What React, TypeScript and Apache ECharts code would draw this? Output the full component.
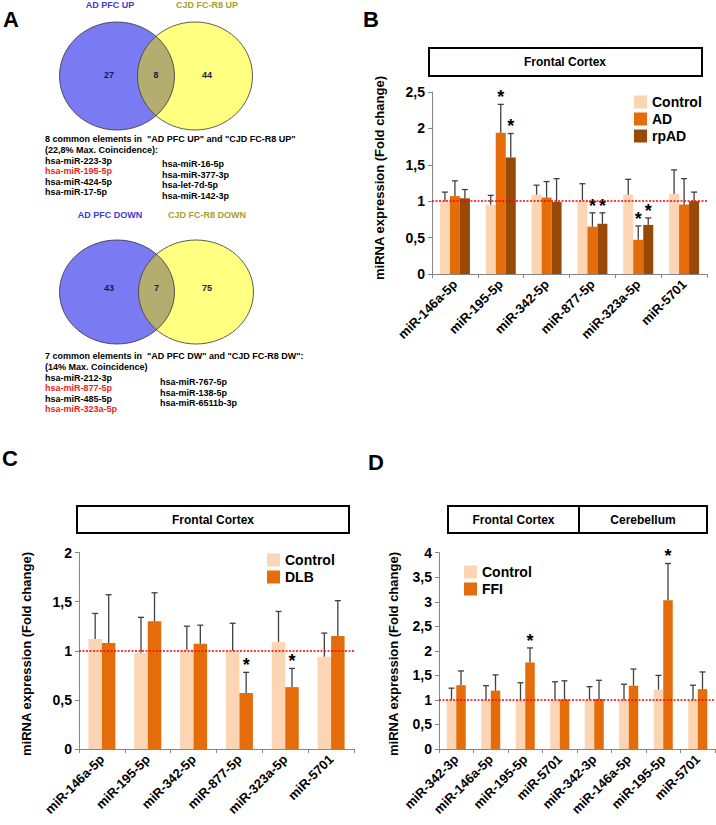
import React, { useEffect, useRef } from 'react';
import * as echarts from 'echarts';

const FONT = "'Liberation Sans', Arial, Helvetica, sans-serif";

// ---------- Panel A (Venn) ----------
const vennUpLabels = ['AD PFC UP', 'CJD FC-R8 UP'];
const vennUpCounts = ['27', '8', '44'];
const vennDownLabels = ['AD PFC DOWN', 'CJD FC-R8 DOWN'];
const vennDownCounts = ['43', '7', '75'];
const upHeader = ['8 common elements in  "AD PFC UP" and "CJD FC-R8 UP"', '(22,8% Max. Coincidence):'];
const upLeft = ['hsa-miR-223-3p', 'hsa-miR-195-5p', 'hsa-miR-424-5p', 'hsa-miR-17-5p'];
const upLeftRed = [false, true, false, false];
const upRight = ['hsa-miR-16-5p', 'hsa-miR-377-3p', 'hsa-let-7d-5p', 'hsa-miR-142-3p'];
const downHeader = ['7 common elements in  "AD PFC DW" and "CJD FC-R8 DW":', '(14% Max. Coincidence)'];
const downLeft = ['hsa-miR-212-3p', 'hsa-miR-877-5p', 'hsa-miR-485-5p', 'hsa-miR-323a-5p'];
const downLeftRed = [false, true, false, true];
const downRight = ['hsa-miR-767-5p', 'hsa-miR-138-5p', 'hsa-miR-6511b-3p'];

// ---------- Panel B ----------
const bCategories = ['miR-146a-5p', 'miR-195-5p', 'miR-342-5p', 'miR-877-5p', 'miR-323a-5p', 'miR-5701'];
const bControl = [1.0, 0.95, 1.09, 1.01, 1.09, 1.1];
const bControlErr = [1.125, 1.08, 1.22, 1.24, 1.3, 1.43];
const bAD = [1.07, 1.94, 1.05, 0.65, 0.47, 0.955];
const bADErr = [1.28, 2.33, 1.27, 0.84, 0.66, 1.31];
const bRpAD = [1.04, 1.6, 0.99, 0.69, 0.675, 1.0];
const bRpADErr = [1.16, 1.93, 1.31, 0.84, 0.77, 1.125];
const bADStars = [false, true, false, true, true, false];
const bRpADStars = [false, true, false, true, true, false];
const bYMax = 2.5;

// ---------- Panel C ----------
const cCategories = ['miR-146a-5p', 'miR-195-5p', 'miR-342-5p', 'miR-877-5p', 'miR-323a-5p', 'miR-5701'];
const cControl = [1.12, 0.98, 1.01, 1.0, 1.09, 0.94];
const cControlErr = [1.38, 1.34, 1.25, 1.28, 1.4, 1.18];
const cDLB = [1.08, 1.3, 1.07, 0.57, 0.63, 1.15];
const cDLBErr = [1.57, 1.59, 1.26, 0.78, 0.82, 1.51];
const cDLBStars = [false, false, false, true, true, false];
const cYMax = 2;

// ---------- Panel D ----------
const dCategories = ['miR-342-3p', 'miR-146a-5p', 'miR-195-5p', 'miR-5701', 'miR-342-3p', 'miR-146a-5p', 'miR-195-5p', 'miR-5701'];
const dControl = [1.0, 1.0, 1.0, 1.02, 1.0, 1.0, 1.21, 1.0];
const dControlErr = [1.24, 1.29, 1.35, 1.37, 1.27, 1.32, 1.5, 1.3];
const dFFI = [1.3, 1.19, 1.765, 1.01, 1.02, 1.29, 3.03, 1.22];
const dFFIErr = [1.59, 1.51, 2.06, 1.39, 1.4, 1.63, 3.78, 1.57];
const dFFIStars = [false, false, true, false, false, false, true, false];
const dYMax = 4;

const C_CONTROL = '#fcd5b4';
const C_AD = '#e46c0a';
const C_RPAD = '#984807';
const AXIS = '#868686';
const ERR = '#404040';

function lensPath(c1: number, c2: number, cy: number, rx: number, ry: number) {
  const xm = (c1 + c2) / 2;
  const dx = (c2 - c1) / 2;
  const h = ry * Math.sqrt(1 - (dx / rx) * (dx / rx));
  return `M ${xm} ${cy - h} A ${rx} ${ry} 0 0 1 ${xm} ${cy + h} A ${rx} ${ry} 0 0 1 ${xm} ${cy - h} Z`;
}

const V1 = { c1: 117, c2: 195, cy: 76, rx: 57.5, ry: 54 };
const V2 = { c1: 117, c2: 196, cy: 292, rx: 57.5, ry: 52 };

echarts.graphic.registerShape('lensUp', echarts.graphic.extendPath(lensPath(V1.c1, V1.c2, V1.cy, V1.rx, V1.ry), {}) as any);
echarts.graphic.registerShape('lensDown', echarts.graphic.extendPath(lensPath(V2.c1, V2.c2, V2.cy, V2.rx, V2.ry), {}) as any);

function txt(x: number, y: number, text: string, font: string, fill = '#000', align = 'left', rotation = 0): any {
  return {
    type: 'text',
    x,
    y,
    rotation,
    silent: true,
    style: {
      text,
      font,
      fill,
      align,
      verticalAlign: 'middle',
      textAlign: align,
      textVerticalAlign: 'middle',
    },
  };
}

function venn(v: typeof V1, lens: string, labels: string[], counts: string[], labelY: number, countY: number): any[] {
  const els: any[] = [];
  els.push({ type: 'ellipse', shape: { cx: v.c1, cy: v.cy, rx: v.rx, ry: v.ry }, style: { fill: '#7a7af2' }, silent: true });
  els.push({ type: 'ellipse', shape: { cx: v.c2, cy: v.cy, rx: v.rx, ry: v.ry }, style: { fill: '#ffff80' }, silent: true });
  els.push({ type: lens, x: 0, y: 0, style: { fill: '#b3ae70' }, silent: true });
  els.push({ type: 'ellipse', shape: { cx: v.c1, cy: v.cy, rx: v.rx, ry: v.ry }, style: { fill: 'none', stroke: '#333', lineWidth: 0.8 }, silent: true });
  els.push({ type: 'ellipse', shape: { cx: v.c2, cy: v.cy, rx: v.rx, ry: v.ry }, style: { fill: 'none', stroke: '#333', lineWidth: 0.8 }, silent: true });
  const f9 = `bold 9px ${FONT}`;
  els.push(txt(110, labelY, labels[0], f9, '#3c3cd0', 'center'));
  els.push(txt(207, labelY, labels[1], f9, '#a89e2c', 'center'));
  const xm = (v.c1 + v.c2) / 2;
  els.push(txt(109, countY, counts[0], f9, '#1a1a48', 'center'));
  els.push(txt(xm, countY, counts[1], f9, '#1a1a48', 'center'));
  els.push(txt(207, countY, counts[2], f9, '#1a1a48', 'center'));
  return els;
}

function listBlock(header: string[], left: string[], leftRed: boolean[], right: string[], y0: number, rightY0: number, rightX: number): any[] {
  const f = `bold 9px ${FONT}`;
  const els: any[] = [];
  header.forEach((h, i) => els.push(txt(45, y0 + i * 10.8, h, f)));
  left.forEach((h, i) => els.push(txt(45, y0 + 21.5 + i * 10.5, h, f, leftRed[i] ? '#ee1c1c' : '#000')));
  right.forEach((h, i) => els.push(txt(rightX, rightY0 + i * 10.5, h, f)));
  return els;
}

function errSeries(idx: number, groups: { vals: number[]; errs: number[]; stars?: boolean[] }[], bw: number): any {
  const data: number[][] = [];
  groups.forEach((g, k) =>
    g.vals.forEach((v, i) => data.push([i, k, v, g.errs[i], g.stars && g.stars[i] ? 1 : 0]))
  );
  const n = groups.length;
  return {
    type: 'custom',
    xAxisIndex: idx,
    yAxisIndex: idx,
    z: 4,
    silent: true,
    data,
    encode: { x: 0, y: 3 },
    renderItem: (_params: any, api: any) => {
      const cat = api.value(0);
      const k = api.value(1);
      const v = api.value(2);
      const e = api.value(3);
      const s = api.value(4);
      const p0 = api.coord([cat, v]);
      const p1 = api.coord([cat, e]);
      const x = p0[0] + (k - (n - 1) / 2) * bw;
      const children: any[] = [
        { type: 'line', shape: { x1: x, y1: p0[1], x2: x, y2: p1[1] }, style: { stroke: ERR, lineWidth: 1.3 } },
        { type: 'line', shape: { x1: x - 3, y1: p1[1], x2: x + 3, y2: p1[1] }, style: { stroke: ERR, lineWidth: 1.3 } },
      ];
      if (s) {
        children.push({
          type: 'text',
          x,
          y: p1[1] - 7,
          style: {
            text: '*',
            font: `bold 18px ${FONT}`,
            fill: '#000',
            align: 'center',
            verticalAlign: 'middle',
            textAlign: 'center',
            textVerticalAlign: 'middle',
          },
        });
      }
      return { type: 'group', children };
    },
  };
}

function refLine(idx: number): any {
  return {
    type: 'line',
    name: '_ref' + idx,
    xAxisIndex: idx,
    yAxisIndex: idx,
    data: [],
    z: 6,
    silent: true,
    markLine: {
      silent: true,
      symbol: ['none', 'none'],
      label: { show: false },
      lineStyle: { color: '#ff0000', type: [2, 1.5], width: 1.5 },
      data: [{ yAxis: 1 }],
    },
  };
}

function bar(name: string, idx: number, data: number[], color: string, bw: number): any {
  return {
    type: 'bar',
    name,
    xAxisIndex: idx,
    yAxisIndex: idx,
    data,
    barWidth: bw,
    barGap: '0%',
    itemStyle: { color },
    silent: true,
  };
}

function xAxis(idx: number, data: string[]): any {
  return {
    type: 'category',
    gridIndex: idx,
    data,
    boundaryGap: true,
    axisLine: { show: true, lineStyle: { color: AXIS, width: 1 } },
    axisTick: { show: true, length: 4, lineStyle: { color: AXIS } },
    axisLabel: { rotate: 45, interval: 0, fontSize: 13, fontWeight: 'bold', color: '#000', fontFamily: FONT, margin: 8 },
    splitLine: { show: false },
  };
}

function yAxis(idx: number, max: number): any {
  return {
    type: 'value',
    gridIndex: idx,
    min: 0,
    max,
    interval: 0.5,
    axisLine: { show: true, lineStyle: { color: AXIS, width: 1 } },
    axisTick: { show: true, length: 4, lineStyle: { color: AXIS } },
    axisLabel: {
      fontSize: 14,
      fontWeight: 'bold',
      color: '#000',
      fontFamily: FONT,
      margin: 7,
      formatter: (v: number) => String(v).replace('.', ','),
    },
    splitLine: { show: false },
  };
}

function legend(names: string[], left: number, top: number): any {
  return {
    data: names,
    orient: 'vertical',
    left,
    top,
    padding: 0,
    itemWidth: 13,
    itemHeight: 13,
    itemGap: 3,
    icon: 'rect',
    selectedMode: false,
    textStyle: { fontSize: 14, fontWeight: 'bold', color: '#000', fontFamily: FONT },
  };
}

function header(x: number, y: number, w: number, h: number): any {
  return { type: 'rect', shape: { x, y, width: w, height: h }, style: { fill: '#fff', stroke: '#000', lineWidth: 2 }, silent: true };
}

export default function App() {
  const ref = useRef<HTMLDivElement>(null);
  useEffect(() => {
    if (!ref.current) return;
    const chart = echarts.init(ref.current, undefined, { renderer: 'svg' });
    const big = `bold 22px ${FONT}`;
    const hdr = `bold 12px ${FONT}`;
    const ytitle = `bold 13px ${FONT}`;
    const graphic: any[] = [
      txt(3, 19, 'A', big),
      txt(363, 19, 'B', big),
      txt(2, 458, 'C', big),
      txt(368, 462, 'D', big),
      ...venn(V1, 'lensUp', vennUpLabels, vennUpCounts, 5, 75),
      ...listBlock(upHeader, upLeft, upLeftRed, upRight, 139, 164, 162),
      ...venn(V2, 'lensDown', vennDownLabels, vennDownCounts, 215, 288),
      ...listBlock(downHeader, downLeft, downLeftRed, downRight, 356, 382, 160),
      header(429, 48, 273, 28),
      txt(565, 62, 'Frontal Cortex', hdr, '#000', 'center'),
      header(77, 506, 272, 27),
      txt(213, 519.5, 'Frontal Cortex', hdr, '#000', 'center'),
      header(448, 506, 259, 27),
      { type: 'line', shape: { x1: 579, y1: 506, x2: 579, y2: 533 }, style: { stroke: '#000', lineWidth: 2 }, silent: true },
      txt(513.5, 519.5, 'Frontal Cortex', hdr, '#000', 'center'),
      txt(643, 519.5, 'Cerebellum', hdr, '#000', 'center'),
      txt(379, 178, 'miRNA expression (Fold change)', ytitle, '#000', 'center', Math.PI / 2),
      txt(26, 654, 'miRNA expression (Fold change)', ytitle, '#000', 'center', Math.PI / 2),
      txt(393, 654, 'miRNA expression (Fold change)', ytitle, '#000', 'center', Math.PI / 2),
    ];
    const bBW = 10;
    const cBW = 13.5;
    const dBW = 9.5;
    chart.setOption({
      animation: false,
      backgroundColor: '#fff',
      textStyle: { fontFamily: FONT },
      grid: [
        { left: 432, top: 92, width: 275, height: 182 },
        { left: 79, top: 552.5, width: 275, height: 196.5 },
        { left: 439, top: 552.7, width: 276, height: 196.3 },
      ],
      xAxis: [xAxis(0, bCategories), xAxis(1, cCategories), xAxis(2, dCategories)],
      yAxis: [yAxis(0, bYMax), yAxis(1, cYMax), yAxis(2, dYMax)],
      legend: [
        legend(['Control', 'AD', 'rpAD'], 634, 95),
        legend(['Control', 'DLB'], 267, 553),
        legend(['Control', 'FFI'], 464, 565),
      ],
      series: [
        bar('Control', 0, bControl, C_CONTROL, bBW),
        bar('AD', 0, bAD, C_AD, bBW),
        bar('rpAD', 0, bRpAD, C_RPAD, bBW),
        errSeries(0, [
          { vals: bControl, errs: bControlErr },
          { vals: bAD, errs: bADErr, stars: bADStars },
          { vals: bRpAD, errs: bRpADErr, stars: bRpADStars },
        ], bBW),
        refLine(0),
        bar('Control', 1, cControl, C_CONTROL, cBW),
        bar('DLB', 1, cDLB, C_AD, cBW),
        errSeries(1, [
          { vals: cControl, errs: cControlErr },
          { vals: cDLB, errs: cDLBErr, stars: cDLBStars },
        ], cBW),
        refLine(1),
        bar('Control', 2, dControl, C_CONTROL, dBW),
        bar('FFI', 2, dFFI, C_AD, dBW),
        errSeries(2, [
          { vals: dControl, errs: dControlErr },
          { vals: dFFI, errs: dFFIErr, stars: dFFIStars },
        ], dBW),
        refLine(2),
      ],
      graphic,
    });
    return () => chart.dispose();
  }, []);
  return (
    <div
      ref={ref}
      style={{ position: 'fixed', left: 0, top: 0, width: 716, height: 825, background: '#fff' }}
    />
  );
}
